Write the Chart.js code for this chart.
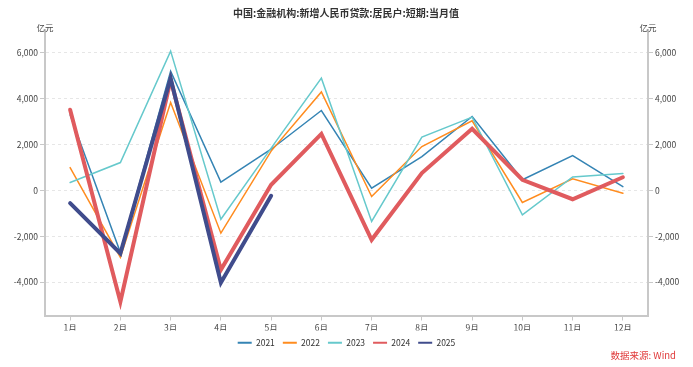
<!DOCTYPE html>
<html lang="zh">
<head>
  <meta charset="UTF-8" />
  <title>中国:金融机构:新增人民币贷款:居民户:短期:当月值</title>
  <script src="https://cdn.jsdelivr.net/npm/chart.js"></script>
  <style>
    body { margin: 0; background: #fff; }
    #wrap { width: 693px; height: 367px; }
  </style>
</head>
<body>
  <div id="wrap"><canvas id="chart" width="693" height="367"></canvas></div>
  <script>
    const months = ['1月', '2月', '3月', '4月', '5月', '6月', '7月', '8月', '9月', '10月', '11月', '12月'];
    const y2021 = [3300, -2700, 5200, 370, 1800, 3490, 100, 1480, 3230, 470, 1520, 170];
    const y2022 = [1000, -2920, 3840, -1860, 1720, 4300, -260, 1920, 3040, -520, 510, -120];
    const y2023 = [350, 1220, 6080, -1250, 1850, 4900, -1350, 2330, 3200, -1060, 590, 740];
    const y2024 = [3520, -4850, 4830, -3460, 250, 2470, -2150, 760, 2690, 470, -380, 580];
    const y2025 = [-550, -2740, 4900, -4020, -230];
    const yTicks = [-4000, -2000, 0, 2000, 4000, 6000];

    const font = '"Noto Sans CJK SC", "Noto Sans", sans-serif';

    const textPlugin = {
      id: 'texts',
      afterDraw(chart) {
        const ctx = chart.ctx;
        ctx.save();
        ctx.fillStyle = '#333';
        ctx.font = 'bold 10px ' + font;
        ctx.textAlign = 'center';
        ctx.textBaseline = 'middle';
        ctx.fillText('中国:金融机构:新增人民币贷款:居民户:短期:当月值', 346, 13);
        ctx.font = '8.5px ' + font;
        ctx.fillStyle = '#444';
        ctx.fillText('亿元', 45, 28);
        ctx.fillText('亿元', 648, 28);
        ctx.fillStyle = '#e03a3a';
        ctx.textAlign = 'right';
        ctx.font = '9.5px ' + font;
        ctx.fillText('数据来源: Wind', 676, 355);
        ctx.restore();
      }
    };

    const thin = 1.5, thick = 4;
    const axisColor = '#c8c8c8';
    const tickFont = { size: 8.5, family: font };

    new Chart(document.getElementById('chart').getContext('2d'), {
      type: 'line',
      data: {
        labels: months,
        datasets: [
          { label: '2021', data: y2021, borderColor: '#3584b4', borderWidth: thin, order: 4 },
          { label: '2022', data: y2022, borderColor: '#ff8c1f', borderWidth: thin, order: 3 },
          { label: '2023', data: y2023, borderColor: '#66c9cc', borderWidth: thin, order: 2 },
          { label: '2024', data: y2024, borderColor: '#e05b5e', borderWidth: thick, order: 1 },
          { label: '2025', data: y2025, borderColor: '#404c8c', borderWidth: thick, order: 0 }
        ]
      },
      options: {
        responsive: false,
        animation: false,
        layout: { padding: { top: 30, bottom: 10 } },
        elements: {
          point: { radius: 0, hoverRadius: 0 },
          line: { tension: 0, borderCapStyle: 'round', borderJoinStyle: 'miter' }
        },
        scales: {
          x: {
            offset: true,
            afterFit: scale => { scale.height = 15; },
            grid: { drawOnChartArea: false, tickLength: 5, tickColor: axisColor },
            border: { color: axisColor, width: 2 },
            ticks: { color: '#444', font: tickFont, padding: 2, maxRotation: 0 }
          },
          y: {
            position: 'left',
            min: -5450,
            max: 7000,
            afterBuildTicks: axis => { axis.ticks = yTicks.map(v => ({ value: v })); },
            afterFit: scale => { scale.width = 45; },
            grid: { color: '#e6e6e6', tickColor: axisColor, tickLength: 5, tickBorderDash: [] },
            border: { color: axisColor, width: 2, dash: [3, 3] },
            ticks: { color: '#444', font: tickFont, padding: 2,
              callback: v => v.toLocaleString('en-US') }
          },
          y2: {
            position: 'right',
            min: -5450,
            max: 7000,
            afterBuildTicks: axis => { axis.ticks = yTicks.map(v => ({ value: v })); },
            afterFit: scale => { scale.width = 45; },
            grid: { drawOnChartArea: false, tickColor: axisColor, tickLength: 5 },
            border: { color: axisColor, width: 2 },
            ticks: { color: '#444', font: tickFont, padding: 2,
              callback: v => v.toLocaleString('en-US') }
          }
        },
        plugins: {
          title: { display: false },
          tooltip: { enabled: false },
          legend: {
            position: 'bottom',
            labels: {
              usePointStyle: true,
              pointStyle: 'line',
              pointStyleWidth: 14,
              color: '#333',
              padding: 8,
              font: { size: 8.5, family: font },
              generateLabels: chart => chart.data.datasets.map((d, i) => ({
                text: d.label,
                strokeStyle: d.borderColor,
                fillStyle: d.borderColor,
                lineWidth: 2,
                pointStyle: 'line',
                datasetIndex: i,
                fontColor: '#333'
              }))
            }
          }
        }
      },
      plugins: [textPlugin]
    });
  </script>
</body>
</html>
